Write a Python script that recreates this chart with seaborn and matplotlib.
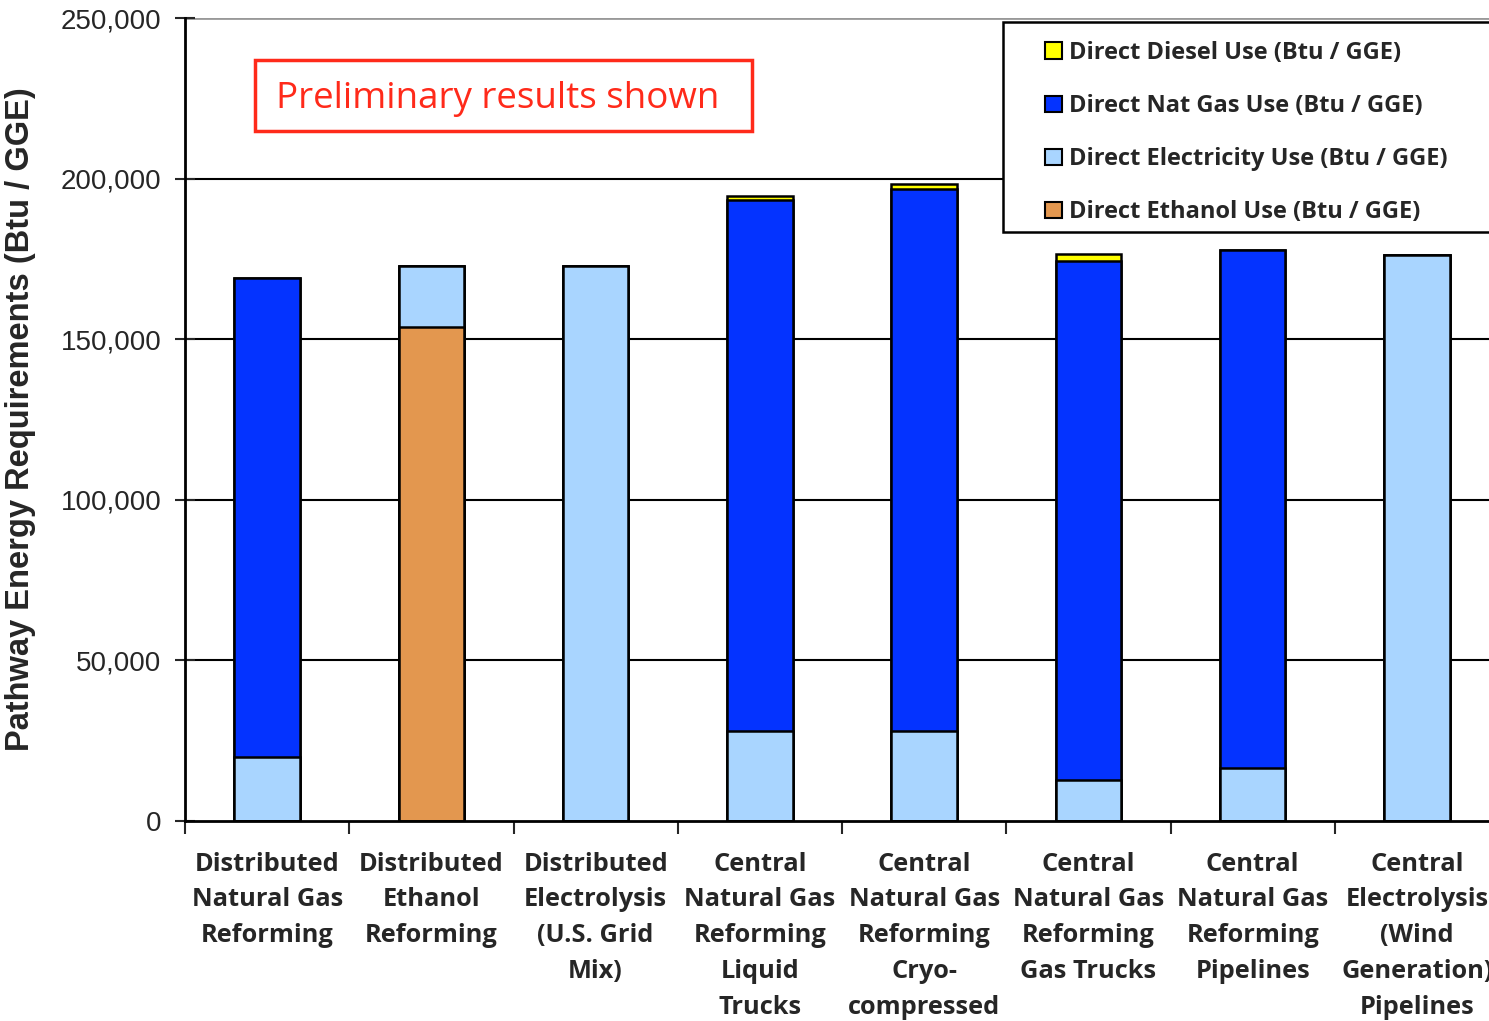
import matplotlib
matplotlib.use("Agg")
import matplotlib.pyplot as plt
import matplotlib.patches as mpatches
import numpy as np
import pandas as pd
import seaborn as sns

# === Dati ===
categories = [
    "Distributed\nNatural Gas\nReforming",
    "Distributed\nEthanol\nReforming",
    "Distributed\nElectrolysis\n(U.S. Grid\nMix)",
    "Central\nNatural Gas\nReforming\nLiquid\nTrucks",
    "Central\nNatural Gas\nReforming\nCryo-\ncompressed",
    "Central\nNatural Gas\nReforming\nGas Trucks",
    "Central\nNatural Gas\nReforming\nPipelines",
    "Central\nElectrolysis\n(Wind\nGeneration)\nPipelines",
]
ethanol = [0, 153800, 0, 0, 0, 0, 0, 0]
electricity = [20000, 19000, 172800, 28000, 28000, 12800, 16500, 176200]
nat_gas = [149000, 0, 0, 165300, 168700, 161500, 161300, 0]
diesel = [0, 0, 0, 1400, 1600, 2300, 0, 0]

series_names = [
    "Direct Diesel Use (Btu / GGE)",
    "Direct Nat Gas Use (Btu / GGE)",
    "Direct Electricity Use (Btu / GGE)",
    "Direct Ethanol Use (Btu / GGE)",
]
series_colors = ["#FFFF00", "#0433FF", "#A9D5FF", "#E3974F"]

# cumulate dal basso: etanolo, elettricita, gas, diesel
c1 = np.array(ethanol)
c2 = c1 + np.array(electricity)
c3 = c2 + np.array(nat_gas)
c4 = c3 + np.array(diesel)

df = pd.DataFrame({"cat": categories, "c1": c1, "c2": c2, "c3": c3, "c4": c4})

sns.set_style("white")
plt.rcParams["font.family"] = ["Liberation Sans", "DejaVu Sans"]
label_font = ["Open Sans", "DejaVu Sans"]

W, H = 1489, 1021
fig = plt.figure(figsize=(W / 100, H / 100), dpi=100)
ax = fig.add_axes([185 / W, 1 - 821 / H, (1499 - 185) / W, (821 - 18) / H])

# gridlines
for yv in [50000, 100000, 150000, 200000]:
    ax.axhline(yv, color="black", lw=1.5, zorder=0)
ax.axhline(250000, color="#999999", lw=2, zorder=0)

for col, color in zip(["c4", "c3", "c2", "c1"], series_colors):
    sns.barplot(data=df, x="cat", y=col, color=color, width=0.4, edgecolor="black",
                linewidth=1.8, saturation=1, ax=ax, zorder=2)

ax.set_ylim(0, 250000)
ax.set_xlim(-0.5, 7.5)
ax.set_yticks(np.arange(0, 250001, 50000))
ax.set_yticklabels([f"{v:,}" for v in range(0, 250001, 50000)], fontsize=20)
ax.tick_params(axis="y", direction="inout", length=14, width=1.5, pad=10, left=True)

ax.set_xticks(range(8))
ax.set_xticklabels(categories, fontsize=18.3, fontweight="bold", family=label_font,
                   linespacing=1.57, va="top")
ax.tick_params(axis="x", length=0, pad=22)
ax.set_xticks(np.arange(-0.5, 8, 1), minor=True)
ax.tick_params(axis="x", which="minor", direction="out", length=9, width=1.5, bottom=True)

ax.set_xlabel("")
ax.set_ylabel("Pathway Energy Requirements (Btu / GGE)", fontsize=23.5, fontweight="bold",
              family=["Liberation Sans"], labelpad=18)

for s in ["top", "right"]:
    ax.spines[s].set_visible(False)
for s in ["left", "bottom"]:
    ax.spines[s].set_color("black")
    ax.spines[s].set_linewidth(2)

# riquadro legenda (esce dal bordo destro come nell'originale)
fig.patches.append(mpatches.Rectangle((1003 / W, 1 - 232 / H), 520 / W, 210 / H,
                                      transform=fig.transFigure, facecolor="white",
                                      edgecolor="black", lw=1.8, zorder=4))
handles = [mpatches.Patch(facecolor=c, edgecolor="black", lw=1.5, label=n)
           for n, c in zip(series_names, series_colors)]
leg = fig.legend(handles=handles, loc="upper left", bbox_to_anchor=(1045 / W, 1 - 41 / H),
                 prop={"family": label_font, "weight": "bold", "size": 17},
                 handlelength=0.7, handleheight=0.7, handletextpad=0.3, labelspacing=1.23,
                 borderpad=0, borderaxespad=0, frameon=False)
leg.set_zorder(5)

# box "Preliminary results shown"
fig.text(498 / W, 1 - 99 / H, "Preliminary results shown", color="#FF2A1A",
         fontsize=26.5, family=["Open Sans", "DejaVu Sans"], ha="center", va="center")
fig.patches.append(mpatches.Rectangle((255 / W, 1 - 131 / H), (752 - 255) / W, 71 / H,
                                      transform=fig.transFigure, fill=False, edgecolor="#FF2A1A", lw=2.5))

plt.savefig("out.png", dpi=100)
plt.close()
